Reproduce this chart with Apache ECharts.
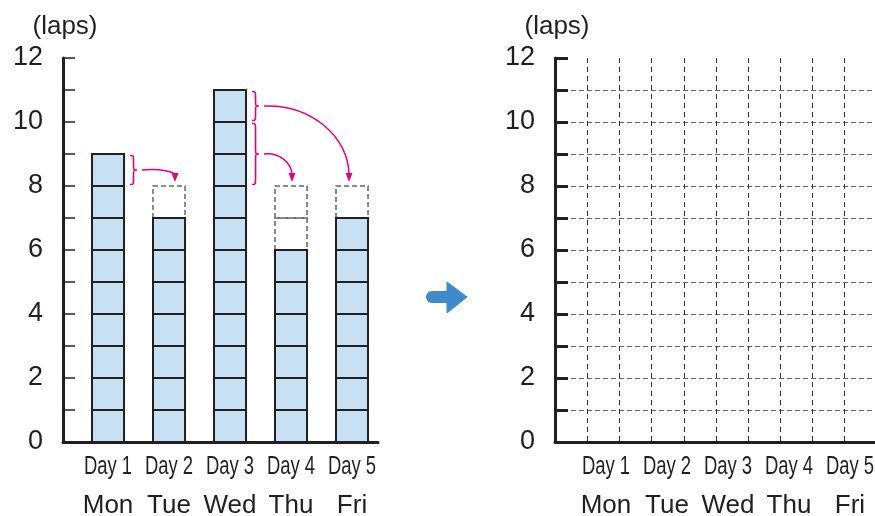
<!DOCTYPE html>
<html><head><meta charset="utf-8">
<script src="https://cdn.jsdelivr.net/npm/echarts@6/dist/echarts.min.js"></script>
<style>html,body{margin:0;padding:0;background:#fff}#c{width:875px;height:516px}</style>
</head><body><div id="c"></div>
<script>
// ---- data ----
const categories = ['Mon', 'Tue', 'Wed', 'Thu', 'Fri'];
const dayLabels = ['Day 1', 'Day 2', 'Day 3', 'Day 4', 'Day 5'];
const laps = [9, 7, 11, 6, 7];
const leveled = [8, 8, 8, 8, 8];
const yTickLabels = [0, 2, 4, 6, 8, 10, 12];
const moveFrom = [0, 2, 2];
const moveTo = [1, 4, 3];
const moveLow = [8, 10, 8];
const moveHigh = [9, 11, 10];
const unitName = '(laps)';

// ---- styles ----
const INK = '#231f20';
const FONT = "'Liberation Sans', Arial, Helvetica, sans-serif";
const BAR_FILL = '#c8e0f4';
const PINK = '#e4007f';
const BLUE = '#3e8acb';
const BAR_FRAC = 0.525;

const chart = echarts.init(document.getElementById('c'), null, {renderer: 'canvas'});

function yAxisCfg(gridIndex, tickWidth, tickLen, withGrid) {
  return {
    gridIndex: gridIndex, type: 'value', min: 0, max: 12, interval: 1,
    name: unitName, nameLocation: 'end', nameGap: 18,
    nameTextStyle: {fontFamily: FONT, fontSize: 26, color: INK, padding: [0, 0, 0, 4]},
    axisLine: {show: true, onZero: false, lineStyle: {color: INK, width: 3}},
    axisTick: {show: true, inside: true, length: tickLen, lineStyle: {color: INK, width: tickWidth}},
    axisLabel: {margin: 20, fontFamily: FONT, fontSize: 27, color: INK,
      formatter: v => yTickLabels.indexOf(v) >= 0 ? String(v) : ''},
    splitLine: withGrid ? {show: true, showMinLine: false, showMaxLine: false,
      lineStyle: {color: '#666', width: 1, type: [5, 3]}} : {show: false}
  };
}

function labelSeries(xAxisIndex) {
  return {
    type: 'custom', xAxisIndex: xAxisIndex, yAxisIndex: xAxisIndex === 0 ? 0 : 1,
    silent: true, clip: false,
    data: categories.map((c, i) => [i, 0]),
    renderItem: function (params, api) {
      const p = api.coord([api.value(0), api.value(1)]);
      const idx = params.dataIndex;
      return {type: 'group', children: [
        {type: 'text', x: p[0], y: p[1] + 25, scaleX: 0.71,
          style: {text: dayLabels[idx], font: '26px ' + FONT, fill: INK, textAlign: 'center', textVerticalAlign: 'middle'}},
        {type: 'text', x: p[0], y: p[1] + 64,
          style: {text: categories[idx], font: '26px ' + FONT, fill: INK, textAlign: 'center', textVerticalAlign: 'middle'}}
      ]};
    }
  };
}

const option = {
  animation: false,
  backgroundColor: '#fff',
  grid: [
    {left: 63, top: 58, width: 315, height: 384},
    {left: 555, top: 58, width: 320, height: 384}
  ],
  xAxis: [
    {gridIndex: 0, type: 'value', min: -0.738, max: 4.426,
      axisLine: {show: true, onZero: false, lineStyle: {color: INK, width: 3}},
      axisTick: {show: false}, axisLabel: {show: false}, splitLine: {show: false}},
    {gridIndex: 1, type: 'value', min: 0, max: 9.94, interval: 1,
      axisLine: {show: true, onZero: false, lineStyle: {color: INK, width: 3}},
      axisTick: {show: false}, axisLabel: {show: false},
      splitLine: {show: true, showMinLine: false, showMaxLine: false, lineStyle: {color: '#333', width: 1, type: [5, 4]}}},
    {gridIndex: 1, type: 'value', min: -0.836, max: 4.41, show: false}
  ],
  yAxis: [yAxisCfg(0, 1.5, 12, false), yAxisCfg(1, 3, 13, true)],
  graphic: [
    {type: 'rect', shape: {x: 426, y: 291, width: 26, height: 12, r: [6, 0, 0, 6]}, style: {fill: BLUE}},
    {type: 'polygon', shape: {points: [[447, 282], [467, 297], [447, 313]]}, style: {fill: BLUE, stroke: BLUE, lineWidth: 1, lineJoin: 'round'}}
  ],
  series: [
    {
      type: 'custom', xAxisIndex: 0, yAxisIndex: 0, silent: true, z: 3,
      data: categories.map((c, i) => [i, laps[i], leveled[i]]),
      renderItem: function (params, api) {
        const i = api.value(0), v = api.value(1), lv = api.value(2);
        const w = api.size([BAR_FRAC, 0])[0];
        const children = [];
        for (let k = v; k < lv; k++) {
          const a = api.coord([i, k + 1]);
          const b = api.coord([i, k]);
          children.push({type: 'rect', shape: {x: a[0] - w / 2, y: a[1], width: w, height: b[1] - a[1]},
            style: {fill: 'none', stroke: '#666', lineWidth: 1.5, lineDash: [5, 3]}});
        }
        for (let k = 0; k < v; k++) {
          const a = api.coord([i, k + 1]);
          const b = api.coord([i, k]);
          children.push({type: 'rect', shape: {x: a[0] - w / 2, y: a[1], width: w, height: b[1] - a[1]},
            style: {fill: BAR_FILL, stroke: INK, lineWidth: 2}});
        }
        return {type: 'group', children: children};
      }
    },
    {
      type: 'custom', xAxisIndex: 0, yAxisIndex: 0, silent: true, z: 4, clip: false,
      data: moveFrom.map((f, j) => [f, moveTo[j], moveLow[j], moveHigh[j]]),
      renderItem: function (params, api) {
        const from = api.value(0), to = api.value(1), lo = api.value(2), hi = api.value(3);
        const w = api.size([BAR_FRAC, 0])[0];
        const pHi = api.coord([from, hi]);
        const pLo = api.coord([from, lo]);
        const x0 = pHi[0] + w / 2 + 6;
        const y1 = pHi[1] + 1.5, y2 = pLo[1] - 1.5;
        const xm = x0 + 3.5, xt = x0 + 7, ym = (y1 + y2) / 2;
        const d = 'M' + x0 + ' ' + y1 + ' C' + xm + ' ' + y1 + ' ' + xm + ' ' + y1 + ' ' + xm + ' ' + (y1 + 5) +
          ' L' + xm + ' ' + (ym - 5) + ' C' + xm + ' ' + ym + ' ' + xm + ' ' + ym + ' ' + xt + ' ' + ym +
          ' C' + xm + ' ' + ym + ' ' + xm + ' ' + ym + ' ' + xm + ' ' + (ym + 5) +
          ' L' + xm + ' ' + (y2 - 5) + ' C' + xm + ' ' + y2 + ' ' + xm + ' ' + y2 + ' ' + x0 + ' ' + y2;
        const tipShift = [6, -3, 1][params.dataIndex];
        const target = api.coord([to, leveled[to]]);
        const sx = xt + 5, sy = ym;
        const ex = target[0] + tipShift, ey = target[1] - 4;
        const cy = ey - 7;
        const dx = ex - sx, dy = cy - sy;
        return {type: 'group', children: [
          {type: 'path', shape: {pathData: d}, style: {fill: 'none', stroke: PINK, lineWidth: 1.6}},
          {type: 'bezierCurve', shape: {x1: sx, y1: sy, cpx1: sx + 0.55 * dx, cpy1: sy - 2, cpx2: ex, cpy2: cy - 0.55 * dy, x2: ex, y2: cy},
            style: {fill: 'none', stroke: PINK, lineWidth: 1.5}},
          {type: 'polygon', shape: {points: [[ex, ey], [ex - 3.5, ey - 9], [ex + 3.5, ey - 9]]}, style: {fill: PINK}}
        ]};
      }
    },
    labelSeries(0),
    labelSeries(2)
  ]
};
chart.setOption(option);
</script>
</body></html>
